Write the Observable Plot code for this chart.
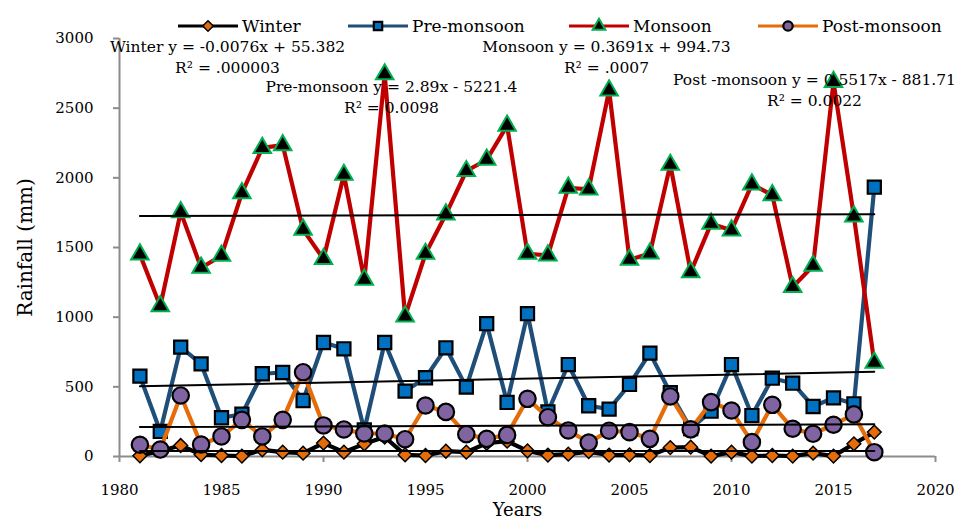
<!DOCTYPE html>
<html>
<head>
<meta charset="utf-8">
<script src="https://cdn.jsdelivr.net/npm/d3@7"></script>
<script src="https://cdn.jsdelivr.net/npm/@observablehq/plot@0.6"></script>
<style>
  body { margin: 0; background: #fff; }
  #chart { position: relative; width: 955px; height: 523px; font-family: "DejaVu Serif", serif; }
  #legend { position: absolute; top: 14px; left: 0; width: 955px; height: 24px; }
  .item { position: absolute; top: 0; display: flex; align-items: center; height: 24px; }
  .item span { font-size: 17px; margin-left: 4px; color: #000; }
</style>
</head>
<body>
<div id="chart"><div id="legend"></div></div>
<script>
// Seasonal rainfall (mm), 1981–2017
const years = [1981, 1982, 1983, 1984, 1985, 1986, 1987, 1988, 1989, 1990,
               1991, 1992, 1993, 1994, 1995, 1996, 1997, 1998, 1999, 2000,
               2001, 2002, 2003, 2004, 2005, 2006, 2007, 2008, 2009, 2010,
               2011, 2012, 2013, 2014, 2015, 2016, 2017];

const winter = [5, 40, 79, 14, 7, 3, 48, 31, 24, 96,
                31, 91, 140, 12, 7, 38, 31, 95, 110, 40,
                10, 17, 35, 10, 12, 7, 64, 67, 3, 31,
                3, 7, 3, 24, 3, 91, 175];

const preMonsoon = [577, 180, 785, 665, 278, 303, 594, 603, 402, 818,
                    773, 190, 818, 469, 565, 780, 498, 953, 388, 1025,
                    320, 660, 364, 340, 517, 742, 458, 200, 325, 660,
                    294, 562, 526, 359, 421, 378, 1933];

const monsoon = [1450, 1079, 1754, 1355, 1441, 1890, 2215, 2235, 1628, 1417,
                 2022, 1269, 2743, 1005, 1455, 1738, 2049, 2130, 2375, 1455,
                 1443, 1929, 1917, 2628, 1412, 1457, 2094, 1323, 1671, 1623,
                 1953, 1876, 1216, 1369, 2688, 1723, 673];

const postMonsoon = [84, 50, 438, 86, 144, 263, 144, 263, 605, 223,
                     194, 165, 165, 124, 366, 320, 160, 127, 155, 414,
                     282, 187, 100, 185, 175, 127, 431, 195, 390, 330,
                     103, 371, 199, 163, 228, 302, 31];

const seasons = ["Winter", "Pre-monsoon", "Monsoon", "Post-monsoon"];
const seasonValues = [winter, preMonsoon, monsoon, postMonsoon];

// Linear trend equations as stated on the chart
const trendSlope = [-0.0076, 2.89, 0.3691, 0.5517];
const trendIntercept = [55.382, -5221.4, 994.73, -881.71];
const trendLabel = [
  "Winter y = -0.0076x + 55.382\nR² = .000003",
  "Pre-monsoon y = 2.89x - 5221.4\nR² = 0.0098",
  "Monsoon y = 0.3691x + 994.73\nR² = .0007",
  "Post -monsoon y = 0.5517x - 881.71\nR² = 0.0022"
];

const xTicks = [1980, 1985, 1990, 1995, 2000, 2005, 2010, 2015, 2020];
const yTicks = [0, 500, 1000, 1500, 2000, 2500, 3000];

// Styling per season
const look = {
  "Winter":       {line: "#000000", symbol: "diamond2", fill: "#E46C0A", mark: "#000000", r: 6.2, markWidth: 1.5},
  "Pre-monsoon":  {line: "#1F4E79", symbol: "square",   fill: "#0070C0", mark: "#000000", r: 7.4, markWidth: 2.2},
  "Monsoon":      {line: "#C00000", symbol: "triangle", fill: "#000000", mark: "#00B050", r: 6.5, markWidth: 2},
  "Post-monsoon": {line: "#E46C0A", symbol: "circle",   fill: "#8064A2", mark: "#000000", r: 8.2, markWidth: 2.2}
};
// Equation label placement (pixel offsets from the plot's top-left corner)
const notePlace = [[108, -2], [272, 38], [487, -2], [695, 31]];
const legendLeft = [178, 348, 569, 758];
const axisGray = "#8c8c8c";

const rows = seasons.map((s, k) => years.map((yr, i) => ({season: s, year: yr, value: seasonValues[k][i]})));
const trends = seasons.map((s, k) => [years[0], years[years.length - 1]].map(yr => ({
  season: s, year: yr, value: trendSlope[k] * yr + trendIntercept[k]
})));

const seriesMarks = seasons.flatMap((s, k) => {
  const L = look[s];
  return [
    Plot.line(rows[k], {x: "year", y: "value", stroke: L.line, strokeWidth: 4.2, strokeLinejoin: "round"}),
    Plot.dot(rows[k], {x: "year", y: "value", symbol: L.symbol, r: L.r, fill: L.fill, stroke: L.mark, strokeWidth: L.markWidth})
  ];
});

const chart = Plot.plot({
  width: 955,
  height: 523,
  marginLeft: 119,
  marginRight: 20,
  marginTop: 38,
  marginBottom: 67,
  x: {domain: [1980, 2020]},
  y: {domain: [0, 3000]},
  style: {fontFamily: "DejaVu Serif, serif", fontSize: "15px", color: "#000", background: "#fff", overflow: "visible"},
  marks: [
    Plot.axisX({ticks: xTicks, tickFormat: d => String(d), tickSize: 6, tickPadding: 22, stroke: axisGray, strokeWidth: 2, fill: "#000", fontSize: 15, label: null}),
    Plot.axisY({ticks: yTicks, tickFormat: d => String(d), tickSize: 6, tickPadding: 20, stroke: axisGray, strokeWidth: 2, fill: "#000", fontSize: 15, label: null}),
    Plot.ruleY([0], {x1: 1980, x2: 2020, stroke: axisGray, strokeWidth: 2}),
    Plot.ruleX([1980], {y1: 0, y2: 3000, stroke: axisGray, strokeWidth: 2}),
    ...seriesMarks,
    ...trends.map(t => Plot.line(t, {x: "year", y: "value", stroke: "#000", strokeWidth: 2})),
    ...trendLabel.map((txt, k) => Plot.text([txt], {
      frameAnchor: "top-left", dx: notePlace[k][0], dy: notePlace[k][1],
      text: d => d, textAnchor: "middle", lineAnchor: "top", lineHeight: 1.38,
      fontSize: 15.5, fill: "#000"
    })),
    Plot.text(["Rainfall (mm)"], {frameAnchor: "left", dx: -94, rotate: -90, text: d => d, fontSize: 20, fill: "#000", textAnchor: "middle"}),
    Plot.text(["Years"], {frameAnchor: "bottom", dx: -10, dy: 59, text: d => d, fontSize: 18, fill: "#000", textAnchor: "middle"})
  ]
});
document.getElementById("chart").prepend(chart);

// Legend: a short line with the series marker, then the series name
const legend = d3.select("#legend");
seasons.forEach((s, k) => {
  const L = look[s];
  const item = legend.append("div").attr("class", "item").style("left", legendLeft[k] + "px");
  const svg = item.append("svg").attr("width", 60).attr("height", 24);
  svg.append("line").attr("x1", 0).attr("x2", 60).attr("y1", 12).attr("y2", 12)
    .attr("stroke", L.line).attr("stroke-width", 3);
  const symType = {diamond2: d3.symbolDiamond2, square: d3.symbolSquare, triangle: d3.symbolTriangle, circle: d3.symbolCircle}[L.symbol];
  svg.append("path").attr("transform", "translate(30,12)")
    .attr("d", d3.symbol(symType, 70)())
    .attr("fill", L.fill).attr("stroke", L.mark).attr("stroke-width", L.markWidth);
  item.append("span").text(s);
});
</script>
</body>
</html>
